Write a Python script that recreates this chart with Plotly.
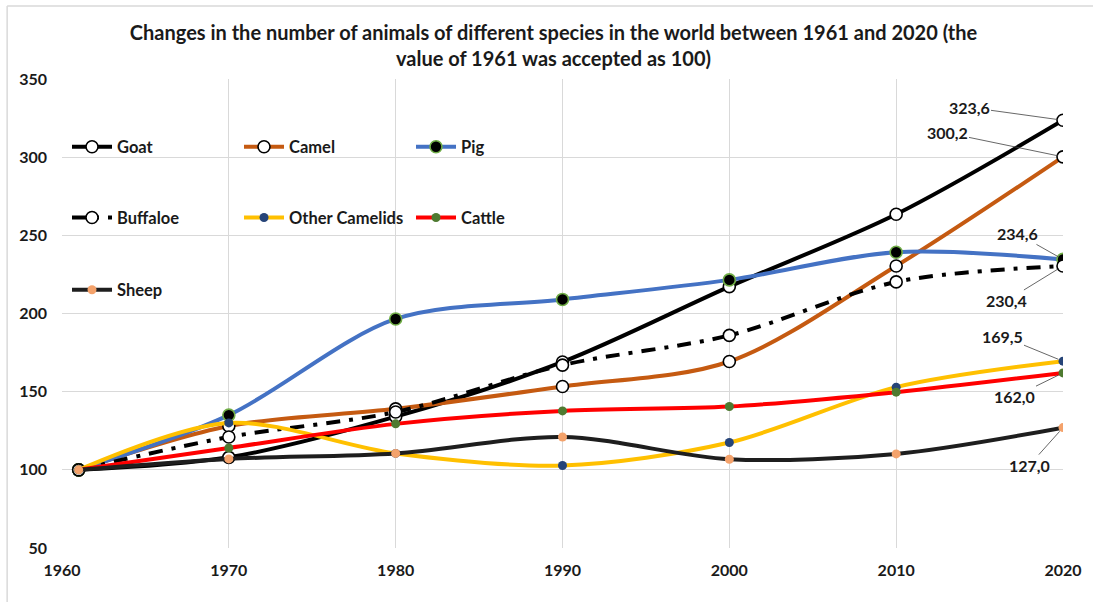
import plotly.graph_objects as go

years = [1961, 1970, 1980, 1990, 2000, 2010, 2020]

goat = [100, 108, 134, 169, 217.2, 263.5, 323.6]
camel = [100, 128, 139, 153.3, 169.3, 230.4, 300.2]
pig = [100, 135, 196.5, 209, 221.5, 239.2, 234.6]
buffaloe = [100, 121, 137, 167, 186, 220.2, 230.4]
other_camelids = [100, 130, 110.5, 102.8, 117.5, 152.9, 169.5]
cattle = [100, 114, 129.4, 137.7, 140.5, 149.7, 162.0]
sheep = [100, 107, 110.5, 121, 106.8, 110.2, 127.0]

x_ticks = [1960, 1970, 1980, 1990, 2000, 2010, 2020]
y_ticks = [50, 100, 150, 200, 250, 300, 350]

FONT = "Lato"
TEXT = "#1a1a1a"

# name, values, line colour, dash, marker fill, marker outline, marker size, legend, label offset
series = [
    ("Goat", goat, "#000000", "solid", "#ffffff", "#000000", 12, "legend", (-94, -13)),
    ("Camel", camel, "#C55A11", "solid", "#ffffff", "#000000", 12, "legend", (-116, -24)),
    ("Pig", pig, "#4472C4", "solid", "#000000", "#70AD47", 12, "legend", (-46, -26)),
    ("Buffaloe", buffaloe, "#000000", "14px,9px,4px,9px", "#ffffff", "#000000", 12, "legend2", (-57, 35)),
    ("Other Camelids", other_camelids, "#FFC000", "solid", "#264478", "#264478", 9, "legend2", (-61, -25)),
    ("Cattle", cattle, "#FF0000", "solid", "#4E7A30", "#4E7A30", 9, "legend2", (-49, 24)),
    ("Sheep", sheep, "#1E1E1E", "solid", "#F4A26B", "#F4A26B", 9, "legend3", (-34, 38)),
]

fig = go.Figure()
for name, vals, color, dash, mfill, mline, msize, leg, _ in series:
    fig.add_trace(go.Scatter(
        x=years, y=vals, name=name, mode="lines+markers",
        line=dict(color=color, width=4, dash=dash, shape="spline", smoothing=0.9),
        marker=dict(size=msize, color=mfill, line=dict(color=mline, width=1.6 if msize > 10 else 0)),
        legend=leg,
    ))

# value labels at the last year with leader lines
for name, vals, color, dash, mfill, mline, msize, leg, (ax, ay) in series:
    v = vals[-1]
    fig.add_annotation(
        x=years[-1], y=v, text=f"{v:.1f}".replace(".", ","),
        showarrow=True, arrowhead=0, arrowwidth=0.8, arrowcolor="#404040",
        ax=ax, ay=ay, standoff=5,
        font=dict(family=FONT, size=16, color=TEXT, weight="bold"),
    )

# chart-area frame (top and left edges)
frame = dict(type="line", xref="paper", yref="paper", line=dict(color="#D9D9D9", width=1.5), layer="below")
fig.add_shape(x0=-0.0548, x1=1.03, y0=1.1557, y1=1.1557, **frame)
fig.add_shape(x0=-0.0548, x1=-0.0548, y0=-0.12, y1=1.1557, **frame)

legend_common = dict(
    orientation="h", xanchor="left", yanchor="middle",
    entrywidth=117, entrywidthmode="pixels", itemwidth=40,
    bgcolor="rgba(0,0,0,0)",
    font=dict(family=FONT, size=16.5, color=TEXT, weight="bold"),
)

fig.update_layout(
    width=1094, height=602,
    margin=dict(l=62, r=28, t=79, b=54),
    paper_bgcolor="#ffffff", plot_bgcolor="#ffffff",
    title=dict(
        text="Changes in the number of animals of different species in the world between 1961 and 2020 (the<br>value of 1961 was accepted as 100)",
        x=0.491, xref="paper", xanchor="center", y=0.934, yanchor="middle",
        font=dict(family=FONT, size=20, color=TEXT, weight="bold"),
    ),
    legend=dict(x=0.005, y=0.855, **legend_common),
    legend2=dict(x=0.005, y=0.704, **legend_common),
    legend3=dict(x=0.005, y=0.55, **legend_common),
    xaxis=dict(
        range=[1960, 2020], tickvals=x_ticks, ticktext=[str(t) for t in x_ticks],
        showgrid=True, gridcolor="#D9D9D9", gridwidth=1, zeroline=False,
        showline=False, ticks="", ticklabelstandoff=11,
        tickfont=dict(family=FONT, size=16, color=TEXT, weight="bold"),
    ),
    yaxis=dict(
        range=[50, 350], tickvals=y_ticks,
        showgrid=True, gridcolor="#D9D9D9", gridwidth=1, zeroline=False,
        showline=False, ticks="", ticklabelstandoff=14,
        tickfont=dict(family=FONT, size=16, color=TEXT, weight="bold"),
    ),
)

fig.write_html("out.html")
